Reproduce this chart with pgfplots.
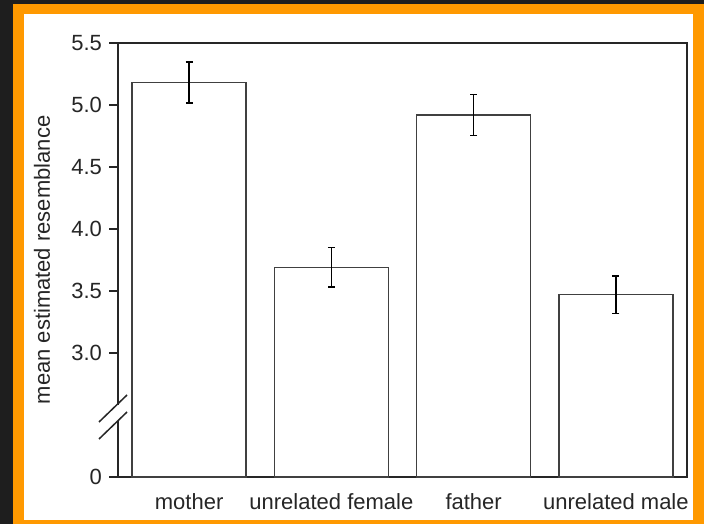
\documentclass[border=0pt]{standalone}
\usepackage{pgfplots}
\pgfplotsset{compat=1.18}
\usepackage{fontspec}
\setmainfont{Liberation Sans}
\definecolor{darkbg}{HTML}{1E1E1E}
\definecolor{frameorange}{HTML}{FF9900}
\begin{document}
\begin{tikzpicture}[x=1pt,y=1pt]
\fill[darkbg] (0,0) rectangle (352,262);
\fill[frameorange] (6.5,0) rectangle (352,260);
\fill[white] (12,2) rectangle (346.5,255);
\begin{axis}[
  at={(59pt,23.5pt)}, anchor=south west,
  scale only axis, width=284.5pt, height=217pt,
  xmin=-0.5, xmax=3.5, ymin=2, ymax=5.5,
  ybar, bar width=0.8, bar shift=0pt,
  xtick={0,1,2,3},
  xticklabels={mother, unrelated female, father, unrelated male},
  xtick style={draw=none},
  ytick={2,3,3.5,4,4.5,5,5.5},
  yticklabels={0,3.0,3.5,4.0,4.5,5.0,5.5},
  ytick pos=left, tick align=outside, major tick length=4.5pt,
  /pgf/number format/assume math mode=true,
  tick label style={font=\fontsize{11}{13}\selectfont, text=black!85},
  label style={font=\fontsize{11}{13}\selectfont, text=black!85},
  ylabel={mean estimated resemblance},
  ylabel style={at={(axis description cs:-0.1336,0.5)}, anchor=center},
  axis line style={line width=0.75pt, black!85},
  every tick/.style={black!85, line width=0.75pt},
]
\addplot[draw=black!75, fill=white, line width=0.75pt,
  error bars/.cd, y dir=both, y explicit,
  error bar style={line width=0.8pt, black},
  error mark options={rotate=90, mark size=1.75pt, line width=0.8pt, black}]
  coordinates {(0,5.18) +- (0,0.165) (1,3.69) +- (0,0.16) (2,4.92) +- (0,0.165) (3,3.47) +- (0,0.15)};
\end{axis}
\fill[white] (57.6,51.5) rectangle (60.4,59.5);
\draw[line width=0.75pt, black!85] (49.5,51) -- (63.5,64.5);
\draw[line width=0.75pt, black!85] (49.5,42.5) -- (63.5,56);
\end{tikzpicture}
\end{document}
